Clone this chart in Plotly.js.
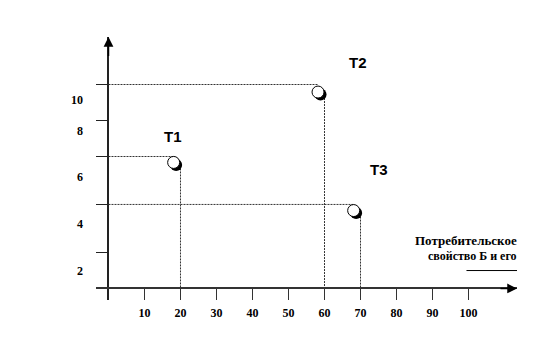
<!DOCTYPE html>
<html>
<head>
<meta charset="utf-8">
<script src="https://cdn.plot.ly/plotly-3.0.1.min.js"></script>
<style>html,body{margin:0;padding:0;background:#fff;}#chart{width:540px;height:338px;}</style>
</head>
<body>
<div id="chart"></div>
<script>
// Data
const pointNames = ['T1', 'T2', 'T3'];
const guideX = [20, 60, 70];          // where vertical guides meet the x axis
const guideY = [6.47, 10, 4.12];      // where horizontal guides meet the y axis
const circleX = [18.1, 58.2, 68.1];   // circle centres
const circleY = [6.18, 9.63, 3.82];
const xTickVals = [10, 20, 30, 40, 50, 60, 70, 80, 90, 100];
const xTickText = ['10', '20', '30', '40', '50', '60', '70', '80', '90', '100'];
const yTickMarks = [1.76, 4.12, 6.47, 8.24, 10];
const yLabelPos = [0.88, 3.19, 5.46, 7.72, 9.24];
const yLabelText = ['2', '4', '6', '8', '10'];
const axisTitle1 = 'Потребительское';
const axisTitle2 = 'свойство Б и его';

// Layout constants (pixels per unit)
const pxX = 3.6, pxY = 20.4;
const xRange = [-3.469, 113.47];
const yRange = [-0.564, 12.3285];

const hx = [], hy = [], vx = [], vy = [];
for (let i = 0; i < guideX.length; i++) {
  hx.push(0, circleX[i], null); hy.push(guideY[i], guideY[i], null);
  vx.push(guideX[i], guideX[i], null); vy.push(circleY[i], 0, null);
}
const dotLine = {color: '#333', width: 1, dash: '2px,1px'};
const traces = [
  {x: hx, y: hy, mode: 'lines', line: dotLine, hoverinfo: 'skip', showlegend: false},
  {x: vx, y: vy, mode: 'lines', line: dotLine, hoverinfo: 'skip', showlegend: false},
  {x: circleX.map(v => v + 2.5 / pxX), y: circleY.map(v => v - 2.5 / pxY), mode: 'markers',
   marker: {size: 12, color: '#000'}, showlegend: false, hoverinfo: 'skip'},
  {x: circleX, y: circleY, mode: 'markers', name: 'points', text: pointNames,
   marker: {size: 12, color: '#fff', line: {color: '#000', width: 1}}, showlegend: false},
  {x: [null], y: [null], yaxis: 'y2', showlegend: false}
];

const labelShift = [[-7.5, 20.5], [33.5, 22.5], [18.5, 35]];
const annotations = pointNames.map((n, i) => ({
  x: guideX[i], y: guideY[i], xref: 'x', yref: 'y', text: '<b>' + n + '</b>', showarrow: false,
  xshift: labelShift[i][0], yshift: labelShift[i][1],
  font: {family: 'Liberation Sans, Arial', size: 15, color: '#000'}
}));
annotations.push(
  {x: 1, y: 2.35, xref: 'paper', yref: 'y', xanchor: 'right', xshift: 2, text: '<b>' + axisTitle1 + '</b>',
   showarrow: false, font: {family: 'Liberation Serif', size: 13, color: '#000'}},
  {x: 1, y: 1.57, xref: 'paper', yref: 'y', xanchor: 'right', xshift: 2, text: '<b>' + axisTitle2 + '</b>',
   showarrow: false, font: {family: 'Liberation Serif', size: 12, color: '#000'}},
  // axis arrows
  {x: xRange[1], y: 0, ax: xRange[1] - 5, ay: 0, xref: 'x', yref: 'y', axref: 'x', ayref: 'y',
   showarrow: true, arrowhead: 2, arrowsize: 1.3, arrowwidth: 1.5, arrowcolor: '#000', text: ''},
  {x: 0, y: yRange[1], ax: 0, ay: yRange[1] - 1, xref: 'x', yref: 'y', axref: 'x', ayref: 'y',
   showarrow: true, arrowhead: 2, arrowsize: 1.3, arrowwidth: 1.5, arrowcolor: '#000', text: ''}
);

const tickFont = {family: 'Liberation Serif', size: 12, color: '#000', weight: 'bold'};
const layout = {
  width: 540, height: 338,
  margin: {l: 96, r: 23, t: 37, b: 38},
  paper_bgcolor: '#fff', plot_bgcolor: '#fff',
  xaxis: {range: xRange, showgrid: false, zeroline: true, zerolinecolor: '#222', zerolinewidth: 2,
    showline: false, ticks: 'inside', ticklen: 12, tickwidth: 1.5, tickcolor: '#333',
    tickvals: xTickVals, ticktext: xTickText, tickfont: tickFont, ticklabelstandoff: 4, fixedrange: true},
  yaxis: {range: yRange, showgrid: false, zeroline: true, zerolinecolor: '#333', zerolinewidth: 2,
    showline: false, ticks: 'inside', ticklen: 12, tickwidth: 1.5, tickcolor: '#222',
    tickvals: yTickMarks, showticklabels: false, fixedrange: true},
  yaxis2: {range: yRange, overlaying: 'y', side: 'left', showgrid: false, zeroline: false,
    showline: false, ticks: '', tickvals: yLabelPos, ticktext: yLabelText, tickfont: tickFont,
    ticklabelstandoff: 12, fixedrange: true},
  shapes: [{type: 'line', xref: 'paper', yref: 'y', x0: 0.88, x1: 1.0, y0: 0.88, y1: 0.88,
    line: {color: '#000', width: 1}}],
  annotations: annotations,
  showlegend: false
};
Plotly.newPlot('chart', traces, layout, {displayModeBar: false, staticPlot: true});
</script>
</body>
</html>
